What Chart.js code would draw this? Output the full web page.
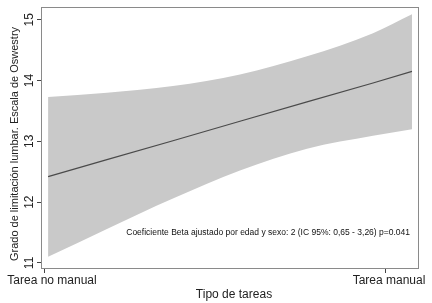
<!DOCTYPE html>
<html>
<head>
<meta charset="utf-8">
<script src="https://cdn.jsdelivr.net/npm/chart.js@4.4.1/dist/chart.umd.min.js"></script>
<style>
  html, body { margin: 0; padding: 0; background: #fff; }
  #wrap { width: 432px; height: 303px; }
</style>
</head>
<body>
<div id="wrap"><canvas id="grafico"></canvas></div>
<script>
// Datos
const categorias = ['Tarea no manual', 'Tarea manual'];
const posiciones = [0.012, 0.184, 0.377, 0.573, 0.769, 0.962, 1.076];
const ajuste = [12.42, 12.70, 13.01, 13.33, 13.65, 13.96, 14.15];
const icSuperior = [13.73, 13.80, 13.91, 14.10, 14.40, 14.78, 15.09];
const icInferior = [11.10, 11.56, 12.06, 12.52, 12.88, 13.09, 13.20];
const ticksY = [11, 12, 13, 14, 15];
const tituloX = 'Tipo de tareas';
const tituloY = 'Grado de limitación lumbar. Escala de Oswestry';
const nota = 'Coeficiente Beta ajustado por edad y sexo: 2 (IC 95%: 0,65 - 3,26) p=0.041';

const fuente = '"Liberation Sans", Arial, sans-serif';
const pts = arr => arr.map((v, i) => ({ x: posiciones[i], y: v }));

// marco, textos de los ejes y nota
const extras = {
  id: 'extras',
  afterDraw(chart) {
    const { ctx, chartArea: a, scales } = chart;
    ctx.save();
    ctx.strokeStyle = '#8a8a8a';
    ctx.lineWidth = 1;
    ctx.strokeRect(a.left + 0.5, a.top + 0.5, a.right - a.left - 1, a.bottom - a.top - 1);

    ctx.fillStyle = '#222';
    ctx.textAlign = 'center';
    ctx.textBaseline = 'middle';

    // etiquetas Y giradas
    ctx.font = '12px ' + fuente;
    scales.y.ticks.forEach(t => {
      const py = scales.y.getPixelForValue(t.value);
      ctx.save();
      ctx.translate(30, py);
      ctx.rotate(-Math.PI / 2);
      ctx.fillText(String(t.value), 0, 0);
      ctx.restore();
    });

    // titulo Y
    ctx.font = '11px ' + fuente;
    ctx.save();
    ctx.translate(15, 144);
    ctx.rotate(-Math.PI / 2);
    ctx.fillText(tituloY, 0, 0);
    ctx.restore();

    // etiquetas X
    ctx.font = '12px ' + fuente;
    scales.x.ticks.forEach(t => {
      const px = scales.x.getPixelForValue(t.value);
      ctx.fillText(categorias[t.value], px + (t.value === 0 ? 8 : 3), 281);
    });
    ctx.fillText(tituloX, 234, 295);

    // nota
    ctx.font = '8.5px ' + fuente;
    ctx.fillStyle = '#111';
    ctx.textAlign = 'right';
    ctx.fillText(nota, 410, 233);
    ctx.restore();
  }
};

new Chart(document.getElementById('grafico'), {
  type: 'line',
  data: {
    datasets: [
      {
        data: pts(ajuste),
        borderColor: '#4a4a4a',
        borderWidth: 1.2,
        pointRadius: 0,
        fill: false,
        order: 0
      },
      {
        data: pts(icSuperior),
        borderWidth: 0,
        backgroundColor: '#c9c9c9',
        pointRadius: 0,
        fill: '+1',
        cubicInterpolationMode: 'monotone',
        order: 1
      },
      {
        data: pts(icInferior),
        borderWidth: 0,
        backgroundColor: '#c9c9c9',
        pointRadius: 0,
        fill: false,
        cubicInterpolationMode: 'monotone',
        order: 2
      }
    ]
  },
  options: {
    responsive: true,
    maintainAspectRatio: false,
    animation: false,
    layout: { padding: { top: 7, right: 13, left: 0, bottom: 0 } },
    plugins: { legend: { display: false }, tooltip: { enabled: false } },
    scales: {
      x: {
        type: 'linear',
        min: -0.0088,
        max: 1.0965,
        afterBuildTicks: s => { s.ticks = [{ value: 0 }, { value: 1 }]; },
        afterFit: s => { s.height = 34; },
        ticks: { display: false },
        grid: { drawOnChartArea: false, tickLength: 4, color: '#444' },
        border: { display: false }
      },
      y: {
        min: 10.9,
        max: 15.21,
        afterBuildTicks: s => { s.ticks = ticksY.map(v => ({ value: v })); },
        afterFit: s => { s.width = 41; },
        ticks: { display: false },
        grid: { drawOnChartArea: false, tickLength: 4, color: '#444' },
        border: { display: false }
      }
    }
  },
  plugins: [extras]
});
</script>
</body>
</html>
